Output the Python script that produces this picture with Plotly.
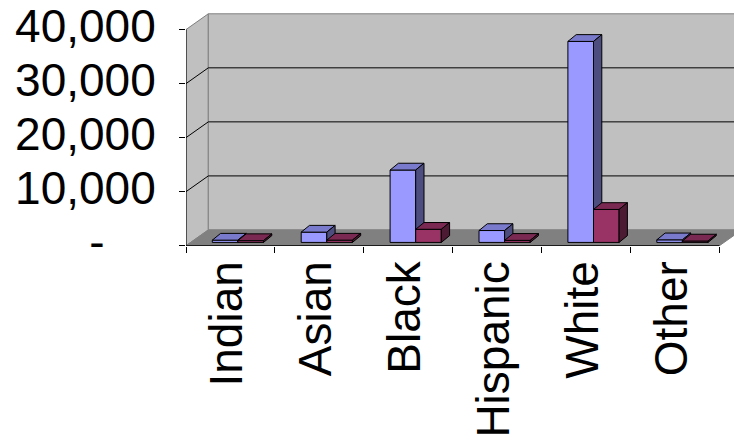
import plotly.graph_objects as go

# ---- data -------------------------------------------------------------
categories = ["Indian", "Asian", "Black", "Hispanic", "White", "Other"]
series_a = [420, 1900, 13400, 2200, 37200, 480]     # blue columns
series_b = [330, 420, 2430, 380, 6100, 260]         # purple columns
y_tick_values = [0, 10000, 20000, 30000, 40000]
y_tick_labels = ["-" + "\u00a0" * 4, "10,000", "20,000", "30,000", "40,000"]

# ---- canvas / scale ----------------------------------------------------
W, H = 734, 444
PLOT_L, PLOT_R, PLOT_T, PLOT_B = 186, 734, 0, 246
ZERO_PX = 245.7                      # pixel row of the value 0 on the front edge
PX_PER_CAT = 88.9                    # pixels per category
PX_PER_VAL = 55.85 / 10000           # pixels per value unit

x_range = [-0.5, -0.5 + (PLOT_R - PLOT_L) / PX_PER_CAT]
y_range = [-(PLOT_B - ZERO_PX) / PX_PER_VAL, (ZERO_PX - PLOT_T) / PX_PER_VAL]


def dx(px):
    return px / PX_PER_CAT


def dv(px):
    return px / PX_PER_VAL


# oblique depth of the chart box and of each column
BOX_DX, BOX_DY = dx(22.3), dv(16.3)
COL_DX, COL_DY = dx(8.3), dv(7.0)
COL_OFFSET = dx(26.3)                # from category edge to first column
COL_W = dx(25.6)
COL_BASE = dv(3.4)

n = len(categories)
x_left, x_right = -0.5, n - 0.5
top_val = y_tick_values[-1]

WALL = "#C0C0C0"
WALL_EDGE = "#808080"
FLOOR = "#808080"

fig = go.Figure()


def poly(xs, ys, fill, line_color, width=1, xaxis="x"):
    fig.add_trace(go.Scatter(
        x=xs, y=ys, mode="lines", fill="toself", fillcolor=fill,
        line=dict(color=line_color, width=width), hoverinfo="skip",
        showlegend=False, xaxis=xaxis))


def line(xs, ys, color, width=1, xaxis="x"):
    fig.add_trace(go.Scatter(
        x=xs, y=ys, mode="lines", line=dict(color=color, width=width),
        hoverinfo="skip", showlegend=False, xaxis=xaxis))


# side wall
poly([x_left, x_left, x_left + BOX_DX, x_left + BOX_DX, x_left],
     [0, top_val, top_val + BOX_DY, BOX_DY, 0], WALL, WALL_EDGE)
# back wall
poly([x_left + BOX_DX, x_right + BOX_DX, x_right + BOX_DX, x_left + BOX_DX, x_left + BOX_DX],
     [BOX_DY, BOX_DY, top_val + BOX_DY, top_val + BOX_DY, BOX_DY], WALL, WALL_EDGE)
# floor
poly([x_left, x_right, x_right + BOX_DX, x_left + BOX_DX, x_left],
     [0, 0, BOX_DY, BOX_DY, 0], FLOOR, FLOOR)

# gridlines on side and back walls
gx, gy = [], []
for v in y_tick_values[1:-1]:
    gx += [x_left, x_left + BOX_DX, x_right + BOX_DX, None]
    gy += [v, v + BOX_DY, v + BOX_DY, None]
line(gx, gy, "#000000", 1)

# front edge of the floor and the value axis line
line([x_left, x_right], [0, 0], "#000000", 1, xaxis="x2")
line([x_left, x_left], [0, top_val], "#000000", 1)


def columns(values, col_index, front, top, side):
    fx, fy, tx, ty, sx, sy = [], [], [], [], [], []
    for i, v in enumerate(values):
        xl = i - 0.5 + COL_OFFSET + col_index * COL_W
        xr = xl + COL_W
        b = COL_BASE
        t = COL_BASE + v
        fx += [xl, xr, xr, xl, xl, None]
        fy += [b, b, t, t, b, None]
        tx += [xl, xr, xr + COL_DX, xl + COL_DX, xl, None]
        ty += [t, t, t + COL_DY, t + COL_DY, t, None]
        sx += [xr, xr + COL_DX, xr + COL_DX, xr, xr, None]
        sy += [b, b + COL_DY, t + COL_DY, t, b, None]
    poly(fx, fy, front, "#000000")
    poly(tx, ty, top, "#000000")
    poly(sx, sy, side, "#000000")


columns(series_a, 0, "#9999FF", "#7A7ACC", "#4D4D80")
columns(series_b, 1, "#993366", "#7A2952", "#4D1A33")

FONT = "Liberation Sans, Arial, sans-serif"

fig.update_layout(
    width=W, height=H,
    margin=dict(l=PLOT_L, r=W - PLOT_R, t=PLOT_T, b=H - PLOT_B, pad=0),
    paper_bgcolor="white", plot_bgcolor="white",
    font=dict(family=FONT, size=46, color="black"),
    showlegend=False,
    xaxis=dict(
        range=x_range, showgrid=False, zeroline=False, showline=False,
        tickvals=[i - 0.5 for i in range(n + 1)], ticks="outside",
        ticklen=6, tickcolor="black", tickwidth=1, showticklabels=False,
        fixedrange=True),
    xaxis2=dict(
        range=x_range, overlaying="x", side="bottom", showgrid=False,
        zeroline=False, showline=False, ticks="",
        tickvals=list(range(n)), ticktext=categories, tickangle=-90,
        tickfont=dict(family=FONT, size=46, color="black"),
        ticklabelstandoff=5, ticklabelshift=-3,
        ticklabeloverflow="allow", fixedrange=True),
    yaxis=dict(
        range=y_range, showgrid=False, zeroline=False, showline=False,
        tickvals=y_tick_values, ticktext=y_tick_labels, ticks="outside",
        ticklen=6, tickcolor="black", tickwidth=1,
        tickfont=dict(family=FONT, size=46, color="black"),
        ticklabelstandoff=14, ticklabelshift=-4,
        ticklabeloverflow="allow", fixedrange=True),
)

fig.write_html("out.html", config={"displayModeBar": False})
